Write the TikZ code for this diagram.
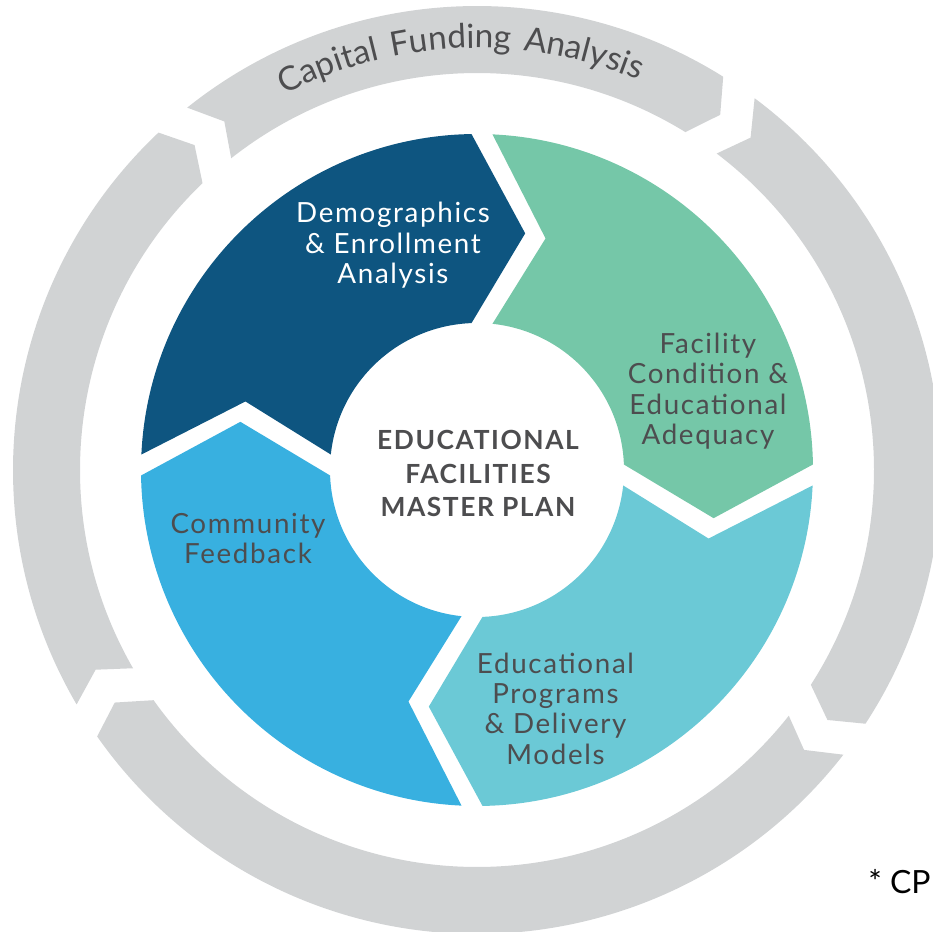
\documentclass[tikz,border=0pt]{standalone}
\usepackage{fontspec}
\setmainfont{Lato}
\newfontfamily\trackfont[LetterSpace=6]{Lato}
\newfontfamily\widefont[LetterSpace=12]{Lato}
\usetikzlibrary{decorations.text}

\definecolor{navy}{HTML}{0E5580}
\definecolor{mint}{HTML}{75C7A8}
\definecolor{aqua}{HTML}{6BC9D6}
\definecolor{sky}{HTML}{38B0E0}
\definecolor{ringgray}{HTML}{D1D3D4}
\definecolor{textgray}{HTML}{4D4D4F}

\newcommand\arcfont{\widefont\fontsize{19}{19}\selectfont}

\tikzset{
  piecetext/.style={align=center, inner sep=0pt, text=textgray,
    font=\trackfont\fontsize{15.8}{17.3}\selectfont},
  plantext/.style={align=center, inner sep=0pt, text=textgray,
    font=\trackfont\bfseries\fontsize{15}{19.3}\selectfont}
}

\begin{document}
\begin{tikzpicture}[x=0.02cm, y=0.02cm]
\useasboundingbox (-477,-462) rectangle (456,470);
% outer gray ring
\foreach \a/\b in {131/55.6, 55.6/-35.5, -35.5/-147.3, -147.3/-229}
  \fill[ringgray] ({\a-2.35}:464) arc[start angle={\a-2.35}, end angle={\b+2.35}, radius=464]
    -- (\b:430.5) -- ({\b+2.74}:397)
    arc[start angle={\b+2.74}, end angle={\a-2.74}, radius=397]
    -- ({\a-5.06}:430.5) -- cycle;
\path[decorate, decoration={text along path, text align=center, text color=textgray,
  text={|\arcfont|Capital Funding Analysis}}]
  (140:422) arc[start angle=140, end angle=44.6, radius=422];
% colored ring
\foreach \a/\col in {180/navy, 90/mint, 0/aqua, -90/sky}{
  \pgfmathsetmacro\b{\a-90}
  \fill[\col] ({\a-2.64}:336) arc[start angle={\a-2.64}, end angle={\b+0.94}, radius=336]
    -- ({\b-11.51}:241.5) -- ({\b+2.14}:147)
    arc[start angle={\b+2.14}, end angle={\a-6.04}, radius=147]
    -- ({\a-16.49}:241.5) -- cycle;
}
\node[piecetext, text=white] (demog) at (-84,224.5) {Demographics\\\& Enrollment\\Analysis};
\node[piecetext] (facil) at (231,79) {Facility\\Condition \&\\Educational\\Adequacy};
\node[piecetext] (progr) at (78.5,-238.5) {Educational\\Programs\\\& Delivery\\Models};
\node[piecetext] (commu) at (-229,-68.5) {Community\\Feedback};
\node[plantext] (plan) at (1,-3.5) {EDUCATIONAL\\FACILITIES\\MASTER PLAN};
\node[anchor=base west, inner sep=0pt, font=\fontsize{18.2}{18.2}\selectfont] (note) at (391,-423) {* CP};
\end{tikzpicture}
\end{document}
